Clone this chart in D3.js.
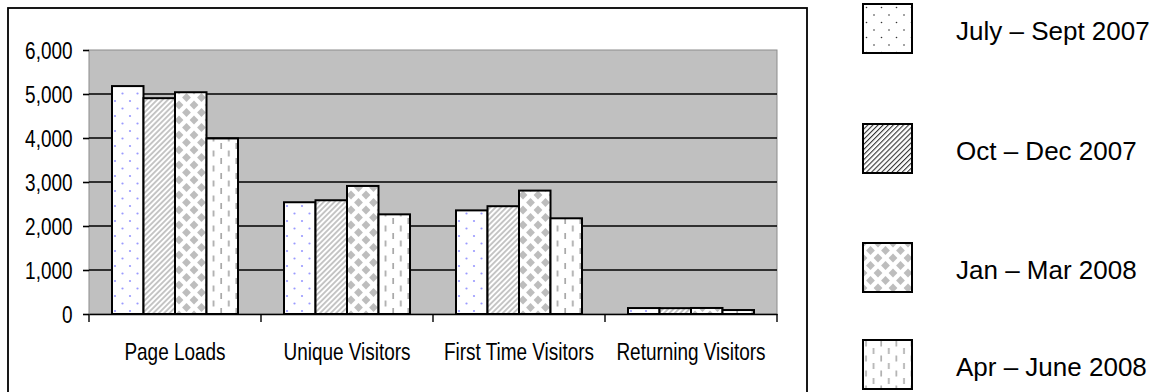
<!DOCTYPE html>
<html>
<head>
<meta charset="utf-8">
<script src="https://cdn.jsdelivr.net/npm/d3@7"></script>
<style>
  html, body { margin: 0; padding: 0; background: #fff; }
  svg { display: block; font-family: "Liberation Sans", Arial, sans-serif; }
</style>
</head>
<body>
<svg id="chart" width="1159" height="392"></svg>
<script>
// Site traffic per quarter
const categories = ["Page Loads", "Unique Visitors", "First Time Visitors", "Returning Visitors"];
const seriesNames = ["July – Sept 2007", "Oct – Dec 2007", "Jan – Mar 2008", "Apr – June 2008"];
const julySept2007 = [5180, 2540, 2355, 135];
const octDec2007   = [4905, 2585, 2450, 133];
const janMar2008   = [5040, 2910, 2805, 137];
const aprJune2008  = [3990, 2265, 2175, 90];
const yTicks = [0, 1000, 2000, 3000, 4000, 5000, 6000];
const gridValues = [1000, 2000, 3000, 4000, 5000];

const seriesValues = [julySept2007, octDec2007, janMar2008, aprJune2008];

// layout
const plot = { left: 89, right: 777, top: 50, bottom: 314 };
const axisTextScale = 0.79;
const legendTops = [4, 124, 243, 340];

const svg = d3.select("#chart");
const defs = svg.append("defs");

// fill patterns for the four quarters (bars and legend swatches)
function dotPattern(id, color, r) {
  const p = defs.append("pattern").attr("id", id)
    .attr("patternUnits", "userSpaceOnUse").attr("width", 15).attr("height", 15);
  p.append("rect").attr("width", 15).attr("height", 15).attr("fill", "#fff");
  [[3.5, 3.5], [11, 11]].forEach(([cx, cy]) =>
    p.append("circle").attr("cx", cx).attr("cy", cy).attr("r", r).attr("fill", color));
}
function stripePattern(id, color, period, w) {
  const p = defs.append("pattern").attr("id", id)
    .attr("patternUnits", "userSpaceOnUse").attr("width", period).attr("height", period)
    .attr("patternTransform", "rotate(45)");
  p.append("rect").attr("width", period).attr("height", period).attr("fill", "#fff");
  p.append("rect").attr("width", w).attr("height", period).attr("fill", color);
}
function diamondPattern(id, color, h) {
  const p = defs.append("pattern").attr("id", id)
    .attr("patternUnits", "userSpaceOnUse").attr("width", 15).attr("height", 15);
  p.append("rect").attr("width", 15).attr("height", 15).attr("fill", "#fff");
  [[0, 0], [15, 0], [0, 15], [15, 15], [7.5, 7.5]].forEach(([cx, cy]) =>
    p.append("polygon")
      .attr("points", `${cx},${cy - h} ${cx + h},${cy} ${cx},${cy + h} ${cx - h},${cy}`)
      .attr("fill", color));
}
function dashPattern(id, color) {
  const p = defs.append("pattern").attr("id", id)
    .attr("patternUnits", "userSpaceOnUse").attr("width", 15.2).attr("height", 15);
  p.append("rect").attr("width", 15.2).attr("height", 15).attr("fill", "#fff");
  p.append("line").attr("x1", 3).attr("x2", 3).attr("y1", 0.5).attr("y2", 6.5)
    .attr("stroke", color).attr("stroke-width", 1.7);
  p.append("line").attr("x1", 10.6).attr("x2", 10.6).attr("y1", 8).attr("y2", 14)
    .attr("stroke", color).attr("stroke-width", 1.7);
}

dotPattern("bar-q1", "#9a9aff", 1.1);
stripePattern("bar-q2", "#c4c4c4", 3.8, 1.9);
diamondPattern("bar-q3", "#bdbdbd", 4.4);
dashPattern("bar-q4", "#a8a8a8");

dotPattern("key-q1", "#333", 0.8);
stripePattern("key-q2", "#333", 3.6, 1.1);
diamondPattern("key-q3", "#bdbdbd", 4.4);
dashPattern("key-q4", "#b0b0b0");

const barFills = ["url(#bar-q1)", "url(#bar-q2)", "url(#bar-q3)", "url(#bar-q4)"];
const keyFills = ["url(#key-q1)", "url(#key-q2)", "url(#key-q3)", "url(#key-q4)"];

// chart frame
svg.append("rect")
  .attr("x", 8).attr("y", 8).attr("width", 799).attr("height", 400)
  .attr("fill", "#fff").attr("stroke", "#000").attr("stroke-width", 1.8);

// scales
const x0 = d3.scaleBand().domain(categories).range([plot.left, plot.right]);
const x1 = d3.scaleBand().domain(seriesNames).range([23, x0.bandwidth() - 23]);
const y = d3.scaleLinear().domain([0, 6000]).range([plot.bottom, plot.top]);

// plot area
svg.append("rect")
  .attr("x", plot.left).attr("y", plot.top)
  .attr("width", plot.right - plot.left).attr("height", plot.bottom - plot.top)
  .attr("fill", "#c0c0c0").attr("stroke", "#8c8c8c").attr("stroke-width", 1);

// gridlines
svg.append("g").selectAll("line").data(gridValues).join("line")
  .attr("x1", plot.left).attr("x2", plot.right)
  .attr("y1", d => y(d)).attr("y2", d => y(d))
  .attr("stroke", "#000").attr("stroke-width", 1.6);

// bars
const rows = categories.map((c, i) => ({
  category: c,
  values: seriesNames.map((s, j) => ({ series: s, j, value: seriesValues[j][i] }))
}));
svg.append("g").selectAll("g").data(rows).join("g")
  .attr("transform", d => `translate(${x0(d.category)},0)`)
  .selectAll("rect").data(d => d.values).join("rect")
  .attr("x", d => x1(d.series))
  .attr("y", d => y(d.value))
  .attr("width", x1.bandwidth())
  .attr("height", d => y(0) - y(d.value))
  .attr("fill", d => barFills[d.j])
  .attr("stroke", "#000").attr("stroke-width", 2);

// y axis (ticks and labels, no spine)
const yAxis = svg.append("g").attr("transform", `translate(${plot.left},0)`)
  .call(d3.axisLeft(y).tickValues(yTicks).tickFormat(d3.format(","))
    .tickSize(6).tickPadding(10));
yAxis.select(".domain").remove();
yAxis.selectAll(".tick line").attr("stroke", "#000").attr("stroke-width", 1.6);
yAxis.selectAll(".tick text")
  .attr("font-size", 24).attr("font-family", "Liberation Sans, Arial, sans-serif")
  .attr("fill", "#000")
  .attr("x", -16.5 / axisTextScale).attr("dy", "0.35em")
  .attr("transform", `scale(${axisTextScale},1)`);

// x axis
const xAxis = svg.append("g").attr("transform", `translate(0,${plot.bottom})`)
  .call(d3.axisBottom(x0).tickSize(0).tickSizeOuter(0).tickPadding(29));
xAxis.select(".domain").attr("stroke", "#000").attr("stroke-width", 1.6);
xAxis.selectAll(".tick text")
  .attr("font-size", 24).attr("font-family", "Liberation Sans, Arial, sans-serif")
  .attr("fill", "#000")
  .attr("transform", `scale(${axisTextScale},1)`);

// category boundary ticks
const boundaries = categories.map(c => x0(c)).concat([x0.range()[1]]);
xAxis.append("g").selectAll("line").data(boundaries).join("line")
  .attr("x1", d => d).attr("x2", d => d)
  .attr("y1", 0).attr("y2", 8)
  .attr("stroke", "#000").attr("stroke-width", 1.4);

// legend
const legend = svg.append("g").selectAll("g").data(seriesNames).join("g")
  .attr("transform", (d, i) => `translate(863,${legendTops[i]})`);
legend.append("rect")
  .attr("x", 0).attr("y", 0).attr("width", 49).attr("height", 49)
  .attr("fill", (d, i) => keyFills[i])
  .attr("stroke", "#000").attr("stroke-width", 2);
legend.append("text")
  .attr("x", 93).attr("y", 35.5)
  .attr("font-size", 26).attr("fill", "#000")
  .text(d => d);
</script>
</body>
</html>
